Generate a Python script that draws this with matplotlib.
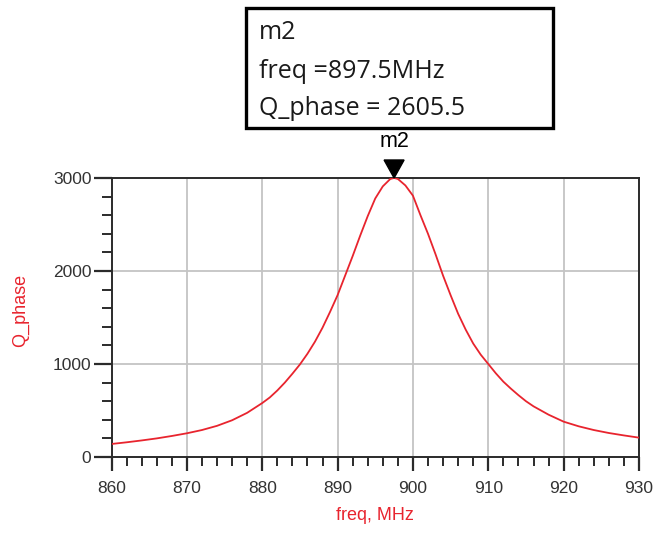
import matplotlib
matplotlib.use("Agg")
import matplotlib.pyplot as plt
from matplotlib.patches import Rectangle, Polygon
from matplotlib.transforms import ScaledTranslation
from matplotlib.ticker import MultipleLocator

# Resonance sweep data
freq_mhz = [860, 862, 864, 866, 868, 870, 872, 874, 876, 878, 880, 881, 882,
            883, 884, 885, 886, 887, 888, 889, 890, 891, 892, 893, 894, 895,
            896, 897, 897.5, 898, 899, 900, 901, 902, 903, 904, 905, 906, 907,
            908, 909, 910, 911, 912, 913, 914, 915, 916, 918, 920, 922, 924,
            926, 928, 930]
q_phase = [140, 158, 178, 200, 226, 255, 290, 335, 395, 475, 580, 640, 715,
           800, 895, 995, 1110, 1240, 1390, 1560, 1740, 1950, 2160, 2380,
           2590, 2780, 2910, 2990, 3000, 2990, 2920, 2810, 2600, 2400, 2180,
           1950, 1740, 1540, 1370, 1220, 1100, 1000, 900, 810, 735, 665, 600,
           545, 455, 380, 330, 290, 258, 232, 208]

x_ticks = [860, 870, 880, 890, 900, 910, 920, 930]
y_ticks = [0, 1000, 2000, 3000]

marker_name = "m2"
marker_freq = 897.5
marker_q_text = "2605.5"

RED = "#e8242e"
DARK = "#2b2b2b"

W, H = 656, 544
fig = plt.figure(figsize=(W / 100, H / 100), dpi=100)
ax = fig.add_axes([111.5 / W, 1 - 457 / H, (639 - 111.5) / W, (457 - 178) / H])

ax.plot(freq_mhz, q_phase, color=RED, lw=1.3, zorder=3)

ax.set_xlim(860, 930)
ax.set_ylim(0, 3000)
ax.set_xticks(x_ticks)
ax.set_yticks(y_ticks)
ax.xaxis.set_minor_locator(MultipleLocator(2))
ax.yaxis.set_minor_locator(MultipleLocator(200))

ax.grid(True, which="major", color="#c4c4c4", lw=1.3, zorder=0)
for s in ax.spines.values():
    s.set_color(DARK)
    s.set_linewidth(1.4)

ax.tick_params(axis="x", which="major", length=10, width=1.6, color=DARK,
               pad=7, labelsize=12.5, labelcolor="#333333")
ax.tick_params(axis="x", which="minor", length=6.5, width=1.4, color=DARK)
ax.tick_params(axis="y", which="major", length=13, width=1.6, color=DARK,
               pad=1.5, labelsize=12.5, labelcolor="#333333")
ax.tick_params(axis="y", which="minor", length=7, width=1.4, color=DARK)
for lab in ax.get_xticklabels() + ax.get_yticklabels():
    lab.set_family("Liberation Sans")

ax.set_xlabel("freq, MHz", color=RED, fontsize=13, family="Liberation Sans",
              labelpad=8)
fig.text(21 / W, 1 - 310 / H, "Q_phase", color=RED, fontsize=13,
         family="Liberation Sans", rotation=90, ha="center", va="center")

# Marker triangle pointing at the peak, drawn in inch offsets from the data point
tri = Polygon([(-0.10, 0.18), (0.10, 0.18), (0.0, 0.0)], closed=True,
              facecolor="black", edgecolor="black",
              transform=fig.dpi_scale_trans + ScaledTranslation(marker_freq, 3000, ax.transData),
              clip_on=False, zorder=5)
ax.add_patch(tri)
ax.annotate(marker_name, xy=(marker_freq, 3000), xytext=(0, 26),
            textcoords="offset points", ha="center", va="center",
            fontsize=15.5, family="Liberation Sans", color="black",
            annotation_clip=False)

# Marker readout box
fig.patches.append(Rectangle((246 / W, 1 - 128 / H), 307 / W, 120 / H,
                             transform=fig.transFigure, fill=False,
                             edgecolor="black", lw=2.4))
lines = [marker_name, f"freq ={marker_freq}MHz", f"Q_phase = {marker_q_text}"]
for txt, yb in zip(lines, [39, 78, 115]):
    fig.text(259 / W, 1 - yb / H, txt, fontsize=18, family="Open Sans",
             color="#1a1a1a", ha="left", va="baseline")

fig.savefig("out.png", dpi=100)
